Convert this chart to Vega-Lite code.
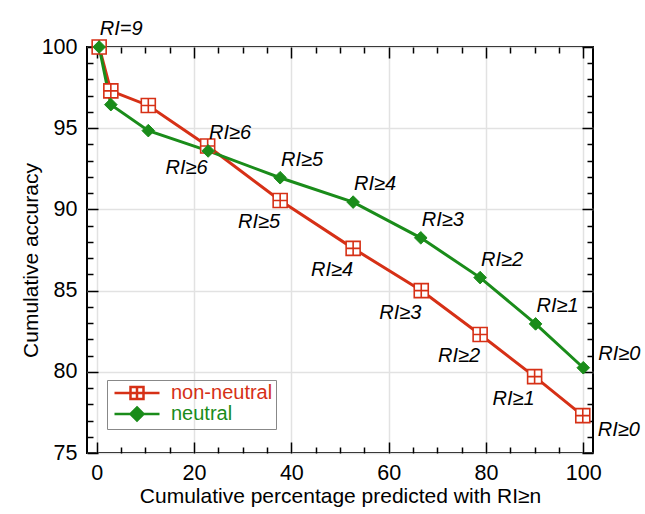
{
  "$schema": "https://vega.github.io/schema/vega-lite/v6.json",
  "width": 506,
  "height": 406,
  "autosize": "none",
  "padding": {"left": 87, "top": 47, "right": 52, "bottom": 61},
  "config": {
    "font": "Liberation Sans",
    "view": {"stroke": "black", "strokeWidth": 2}
  },
  "data": {
    "values": [
      {"series": "non-neutral", "x": 0.5, "y": 100, "label": ""},
      {"series": "non-neutral", "x": 2.9, "y": 97.3, "label": ""},
      {"series": "non-neutral", "x": 10.6, "y": 96.4, "label": ""},
      {"series": "non-neutral", "x": 22.8, "y": 93.9, "label": "RI≥6"},
      {"series": "non-neutral", "x": 37.7, "y": 90.55, "label": "RI≥5"},
      {"series": "non-neutral", "x": 52.7, "y": 87.6, "label": "RI≥4"},
      {"series": "non-neutral", "x": 66.7, "y": 85.0, "label": "RI≥3"},
      {"series": "non-neutral", "x": 78.8, "y": 82.3, "label": "RI≥2"},
      {"series": "non-neutral", "x": 90.0, "y": 79.7, "label": "RI≥1"},
      {"series": "non-neutral", "x": 99.9, "y": 77.3, "label": "RI≥0"},
      {"series": "neutral", "x": 0.5, "y": 100, "label": "RI=9"},
      {"series": "neutral", "x": 2.9, "y": 96.45, "label": ""},
      {"series": "neutral", "x": 10.6, "y": 94.85, "label": ""},
      {"series": "neutral", "x": 22.9, "y": 93.6, "label": "RI≥6"},
      {"series": "neutral", "x": 37.7, "y": 91.95, "label": "RI≥5"},
      {"series": "neutral", "x": 52.7, "y": 90.45, "label": "RI≥4"},
      {"series": "neutral", "x": 66.6, "y": 88.25, "label": "RI≥3"},
      {"series": "neutral", "x": 78.8, "y": 85.8, "label": "RI≥2"},
      {"series": "neutral", "x": 90.2, "y": 82.95, "label": "RI≥1"},
      {"series": "neutral", "x": 100.0, "y": 80.25, "label": "RI≥0"}
    ]
  },
  "resolve": {"axis": {"x": "independent", "y": "independent"}},
  "layer": [
    {
      "mark": {"type": "line", "strokeWidth": 3},
      "encoding": {
        "x": {"field": "x", "type": "quantitative", "scale": {"domain": [-2, 102], "nice": false, "zero": false},
          "axis": {"orient": "bottom", "values": [0, 20, 40, 60, 80, 100], "tickSize": -11, "tickWidth": 1.5, "tickColor": "black",
            "labelPadding": 20, "labelFontSize": 21.5, "labelColor": "black", "grid": true, "gridColor": "#e2e2e2", "gridWidth": 1.5,
            "domain": false, "title": "Cumulative percentage predicted with RI≥n", "titleFontSize": 21, "titleFontWeight": "normal",
            "titleColor": "black", "titleY": 49, "titleBaseline": "alphabetic"}},
        "y": {"field": "y", "type": "quantitative", "scale": {"domain": [75, 100], "nice": false, "zero": false},
          "axis": {"orient": "left", "values": [75, 80, 85, 90, 95, 100], "tickSize": -11, "tickWidth": 1.5, "tickColor": "black",
            "labelPadding": 21, "labelFontSize": 21.5, "labelColor": "black", "grid": true, "gridColor": "#e2e2e2", "gridWidth": 1.5,
            "domain": false, "title": "Cumulative accuracy", "titleFontSize": 21, "titleFontWeight": "normal",
            "titleColor": "black", "titleX": -50, "titleY": 213, "titleBaseline": "alphabetic"}},
        "color": {"field": "series", "type": "nominal",
          "scale": {"domain": ["non-neutral", "neutral"], "range": ["#d63016", "#1a8c1a"]},
          "legend": {"orient": "none", "legendX": 20, "legendY": 333, "title": null, "strokeColor": "#888888",
            "padding": 3, "symbolSize": 100, "symbolStrokeWidth": 2.5, "labelFontSize": 20, "symbolOffset": 17, "labelOffset": 24,
            "rowPadding": -3,
            "encode": {
              "symbols": {"update": {
                "shape": {"signal": "datum.value === 'neutral' ? 'M-4.5,0H4.5M0,-1.3L1.3,0L0,1.3L-1.3,0Z' : 'M-4.5,0H-1.3M1.3,0H4.5M-1.3,-1.2H1.3V1.2H-1.3ZM0,-1.2V1.2M-1.3,0H1.3'"},
                "fill": {"signal": "datum.value === 'neutral' ? '#1a8c1a' : 'white'"},
                "stroke": {"signal": "datum.value === 'neutral' ? '#1a8c1a' : '#d63016'"},
                "strokeWidth": {"value": 2.5}
              }},
              "labels": {"update": {"fill": {"signal": "datum.value === 'neutral' ? '#1a8c1a' : '#d63016'"}}}
            }}}
      }
    },
    {
      "transform": [{"filter": "datum.series === 'non-neutral'"}],
      "mark": {"type": "point", "size": 196, "strokeWidth": 1.6, "opacity": 1, "shape": "M-1,-1H1V1H-1ZM0,-1V1M-1,0H1", "fill": "white", "stroke": "#d63016", "filled": true},
      "encoding": {
        "x": {"field": "x", "type": "quantitative", "scale": {"domain": [-2, 102], "nice": false, "zero": false},
          "axis": {"orient": "bottom", "values": [5, 10, 15, 25, 30, 35, 45, 50, 55, 65, 70, 75, 85, 90, 95], "tickSize": -6, "tickWidth": 1.5,
            "tickColor": "black", "labels": false, "grid": false, "domain": false, "title": null}},
        "y": {"field": "y", "type": "quantitative", "scale": {"domain": [75, 100], "nice": false, "zero": false},
          "axis": {"orient": "left", "values": [76, 77, 78, 79, 81, 82, 83, 84, 86, 87, 88, 89, 91, 92, 93, 94, 96, 97, 98, 99], "tickSize": -6, "tickWidth": 1.5,
            "tickColor": "black", "labels": false, "grid": false, "domain": false, "title": null}}
      }
    },
    {
      "transform": [{"filter": "datum.series === 'neutral'"}],
      "mark": {"type": "point", "size": 196, "strokeWidth": 1, "opacity": 1, "shape": "M0,-0.9L0.9,0L0,0.9L-0.9,0Z", "fill": "#1a8c1a", "stroke": "#1a8c1a", "filled": true},
      "encoding": {
        "x": {"field": "x", "type": "quantitative", "scale": {"domain": [-2, 102], "nice": false, "zero": false}, "axis": null},
        "y": {"field": "y", "type": "quantitative", "scale": {"domain": [75, 100], "nice": false, "zero": false}, "axis": null}
      }
    },
    {
      "transform": [{"filter": "datum.series === 'neutral' && datum.label !== '' && datum.label !== 'RI≥0'"}],
      "mark": {"type": "text", "fontSize": 20, "fontStyle": "italic", "color": "black", "dx": 22, "dy": -18, "align": "center", "baseline": "middle"},
      "encoding": {
        "x": {"field": "x", "type": "quantitative", "scale": {"domain": [-2, 102], "nice": false, "zero": false},
          "axis": {"orient": "top", "values": [0, 20, 40, 60, 80, 100], "tickSize": -11, "tickWidth": 1.5, "tickColor": "black",
            "labels": false, "grid": false, "domain": false, "title": null}},
        "y": {"field": "y", "type": "quantitative", "scale": {"domain": [75, 100], "nice": false, "zero": false},
          "axis": {"orient": "right", "values": [75, 80, 85, 90, 95, 100], "tickSize": -11, "tickWidth": 1.5, "tickColor": "black",
            "labels": false, "grid": false, "domain": false, "title": null}},
        "text": {"field": "label"}
      }
    },
    {
      "transform": [{"filter": "datum.series === 'non-neutral' && datum.label !== '' && datum.label !== 'RI≥0'"}],
      "mark": {"type": "text", "fontSize": 20, "fontStyle": "italic", "color": "black", "dx": -21, "dy": 22, "align": "center", "baseline": "middle"},
      "encoding": {
        "x": {"field": "x", "type": "quantitative", "scale": {"domain": [-2, 102], "nice": false, "zero": false},
          "axis": {"orient": "top", "values": [5, 10, 15, 25, 30, 35, 45, 50, 55, 65, 70, 75, 85, 90, 95], "tickSize": -6, "tickWidth": 1.5,
            "tickColor": "black", "labels": false, "grid": false, "domain": false, "title": null}},
        "y": {"field": "y", "type": "quantitative", "scale": {"domain": [75, 100], "nice": false, "zero": false},
          "axis": {"orient": "right", "values": [76, 77, 78, 79, 81, 82, 83, 84, 86, 87, 88, 89, 91, 92, 93, 94, 96, 97, 98, 99], "tickSize": -6, "tickWidth": 1.5,
            "tickColor": "black", "labels": false, "grid": false, "domain": false, "title": null}},
        "text": {"field": "label"}
      }
    },
    {
      "transform": [{"filter": "datum.series === 'neutral' && datum.label === 'RI≥0'"}],
      "mark": {"type": "text", "fontSize": 20, "fontStyle": "italic", "color": "black", "dx": 15, "dy": -14, "align": "left", "baseline": "middle"},
      "encoding": {
        "x": {"field": "x", "type": "quantitative", "scale": {"domain": [-2, 102], "nice": false, "zero": false}, "axis": null},
        "y": {"field": "y", "type": "quantitative", "scale": {"domain": [75, 100], "nice": false, "zero": false}, "axis": null},
        "text": {"field": "label"}
      }
    },
    {
      "transform": [{"filter": "datum.series === 'non-neutral' && datum.label === 'RI≥0'"}],
      "mark": {"type": "text", "fontSize": 20, "fontStyle": "italic", "color": "black", "dx": 15, "dy": 14, "align": "left", "baseline": "middle"},
      "encoding": {
        "x": {"field": "x", "type": "quantitative", "scale": {"domain": [-2, 102], "nice": false, "zero": false}, "axis": null},
        "y": {"field": "y", "type": "quantitative", "scale": {"domain": [75, 100], "nice": false, "zero": false}, "axis": null},
        "text": {"field": "label"}
      }
    }
  ]
}
